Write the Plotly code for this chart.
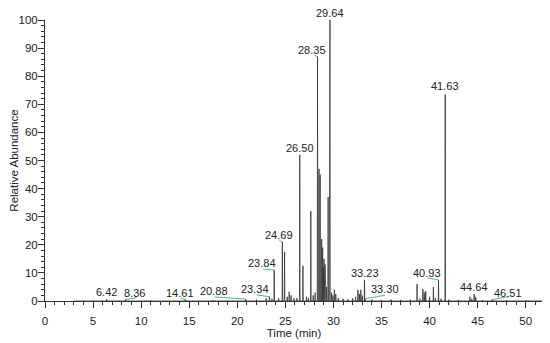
import plotly.graph_objects as go

# ---------------- data ----------------
# retention time (min) and relative abundance (%) of the peaks in the trace
peak_rt = [6.42, 8.36, 11.0, 14.61, 17.5, 20.88, 22.0, 23.0, 23.34, 23.6,
           23.84, 24.3, 24.69, 24.92, 25.2, 25.4, 25.6, 25.9, 26.2, 26.50,
           26.83, 27.2, 27.4, 27.65, 27.9, 28.1, 28.35, 28.5, 28.62, 28.78,
           28.88, 28.95, 29.02, 29.08, 29.13, 29.2, 29.28, 29.45, 29.60, 29.64,
           29.8, 29.95, 30.1, 30.25, 30.5, 31.0, 31.5, 32.0, 32.3, 32.55,
           32.7, 32.85, 33.0, 33.23, 33.30, 34.0, 35.0, 36.0, 37.0, 38.0,
           38.7, 39.0, 39.3, 39.45, 39.6, 40.0, 40.4, 40.6, 40.93, 41.2,
           41.63, 42.0, 43.0, 44.2, 44.4, 44.64, 44.8, 45.5, 46.51, 48.0, 50.0]
peak_abund = [0.6, 0.5, 0.3, 0.5, 0.3, 0.7, 0.5, 1.0, 1.5, 0.8,
              11.0, 1.0, 21.0, 17.5, 1.5, 3.3, 2.0, 1.0, 1.0, 52.0,
              12.5, 1.5, 1.0, 32.0, 2.0, 3.0, 87.0, 47.0, 45.0, 22.0,
              19.0, 12.0, 15.0, 11.0, 13.0, 8.0, 5.0, 37.0, 78.0, 100.0,
              3.0, 2.0, 4.0, 2.5, 1.0, 0.8, 0.6, 1.0, 1.5, 4.0,
              2.5, 4.0, 2.0, 7.5, 0.8, 0.5, 0.4, 0.5, 0.4, 0.5,
              6.0, 0.8, 4.3, 3.0, 3.5, 1.5, 5.0, 1.0, 7.5, 0.8,
              73.5, 0.5, 0.4, 1.5, 0.8, 2.5, 1.5, 0.3, 0.5, 0.3, 0.3]
trace_start, trace_end = 3.0, 51.7

# labelled peaks
label_rt = [6.42, 8.36, 14.61, 20.88, 23.34, 23.84, 24.69, 26.50, 28.35,
            29.64, 33.23, 33.30, 40.93, 41.63, 44.64, 46.51]

# ---------------- style ----------------
half_w = 0.03
# label offset from peak apex (pixels: right, up) and green leader-line end (pixels)
label_off = {6.42: (0, 7), 8.36: (9, 7), 14.61: (-5, 7), 20.88: (-32, 8),
             23.34: (-14, 8), 23.84: (-12, 7), 24.69: (-3, 7), 26.50: (0, 7),
             28.35: (-6, 7), 29.64: (0, 7), 33.23: (1, 7), 33.30: (20, 10),
             40.93: (-12, 7), 41.63: (0, 8), 44.64: (0, 7), 46.51: (16, 7)}
leader = {8.36: (11, 2), 14.61: (-5, 1.5), 20.88: (-31, 2), 23.34: (-13, 2),
          23.84: (-11, 1), 24.69: (-3, 1.5), 28.35: (-3, 1), 33.30: (20, 3.5),
          40.93: (-11, 2), 46.51: (17, 3)}

# build the trace polyline from the peak table
pairs = sorted(zip(peak_rt, peak_abund))
xs, ys = [trace_start], [0.0]
for t, h in pairs:
    xs += [t - half_w, t, t + half_w]
    ys += [0.0, h, 0.0]
xs.append(trace_end)
ys.append(0.0)

fig = go.Figure()
fig.add_trace(go.Scatter(x=xs, y=ys, mode="lines",
                         line=dict(color="#333333", width=0.8),
                         hoverinfo="skip", showlegend=False))

height_of = dict(pairs)
font = "Liberation Sans, Arial, sans-serif"
shapes = []
annotations = []
for t in label_rt:
    h = height_of[t]
    dx, dy = label_off[t]
    annotations.append(dict(x=t, y=h, xref="x", yref="y", text=f"{t:.2f}",
                            showarrow=False, xshift=dx, yshift=dy,
                            yanchor="middle", xanchor="center",
                            font=dict(family=font, size=11, color="#222222")))
    if t in leader:
        lx, ly = leader[t]
        shapes.append(dict(type="line", xref="x", yref="y",
                           xsizemode="pixel", ysizemode="pixel",
                           xanchor=t, yanchor=h, x0=0, x1=lx, y0=0, y1=ly,
                           line=dict(color="#4cbb7f", width=1)))

# page body adds an 8px offset; figure is sized to fit the 550x343 window
fig.update_layout(
    width=542, height=335,
    margin=dict(l=37, r=7, t=12, b=42),
    paper_bgcolor="white", plot_bgcolor="white",
    font=dict(family=font, size=11.5, color="#222222"),
    shapes=shapes, annotations=annotations,
    xaxis=dict(range=[0, 51.8], showgrid=False, zeroline=False, automargin=False,
               showline=True, linecolor="#333333", linewidth=1,
               ticks="outside", ticklen=6, tickcolor="#333333", dtick=5, tick0=0,
               ticklabelstandoff=3,
               minor=dict(dtick=1, ticks="outside", ticklen=3, tickcolor="#333333"),
               title=dict(text="Time (min)", standoff=2, font=dict(size=11.5))),
    yaxis=dict(range=[0, 100], showgrid=False, zeroline=False, automargin=False,
               showline=True, linecolor="#333333", linewidth=1,
               ticks="outside", ticklen=6, tickcolor="#333333", dtick=10, tick0=0,
               ticklabelstandoff=-2,
               minor=dict(dtick=2, ticks="outside", ticklen=3, tickcolor="#333333"),
               title=dict(text="Relative Abundance", standoff=1, font=dict(size=11.5))),
)

fig.write_html("out.html")
